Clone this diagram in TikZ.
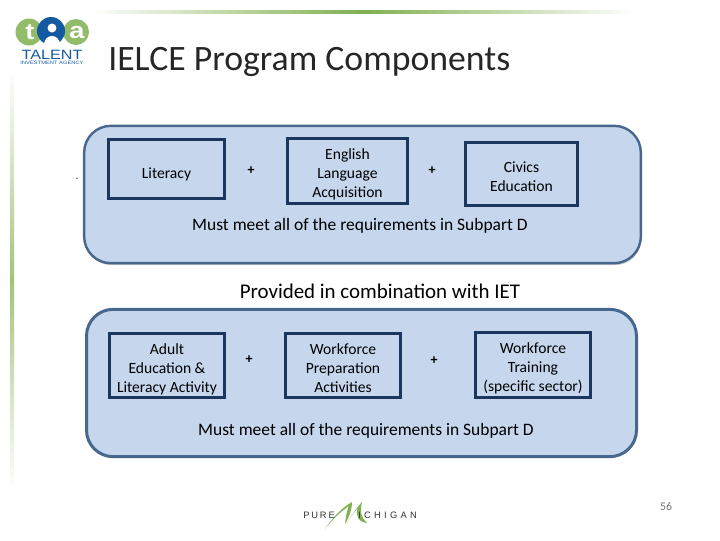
\documentclass[tikz,border=0pt]{standalone}
\usepackage{fontspec}
\setmainfont{Carlito}
\newfontfamily\logofont[FakeStretch=1.2]{Liberation Sans}
\newfontfamily\pureletters[LetterSpace=20]{Liberation Sans}
\newfontfamily\michletters[LetterSpace=35]{Liberation Sans}
\usepackage{tikz}
\usetikzlibrary{shadows}
\definecolor{panelfill}{RGB}{197,214,237}
\definecolor{panelline}{RGB}{72,103,140}
\definecolor{boxline}{RGB}{26,54,93}
\definecolor{leafgreen}{RGB}{128,176,80}
\definecolor{talentblue}{RGB}{20,90,160}
\newcommand{\topgap}[1][12.7pt]{\rule{0pt}{#1}}

\begin{document}
\begin{tikzpicture}[x=0.75pt, y=-0.75pt,
  panel/.style = {draw=panelline, fill=panelfill, rounded corners=20pt, inner sep=0pt},
  comp/.style = {draw=boxline, line width=2.25pt, fill=panelfill, align=center, inner sep=0pt, font=\fontsize{11.7}{14.25}\selectfont},
  plus/.style = {font=\bfseries\fontsize{10.5}{12}\selectfont, inner sep=0pt},
  note/.style = {font=\fontsize{13.1}{15}\selectfont, inner sep=0pt},
  logotext/.style = {talentblue, inner sep=0pt}]
\useasboundingbox (0,0) rectangle (720,540);
% slide rules
\shade[left color=white, right color=white, middle color=leafgreen] (90,10) rectangle (635,13);
\shade[top color=white, bottom color=white, middle color=leafgreen!75] (10,70) rectangle (14,490);
% logo
\fill[leafgreen!85] (29,32) circle (13.5);
\fill[leafgreen!85] (76,32) circle (13);
\fill[talentblue] (51,31) circle (14);
\fill[white] (52,28) circle (4.5);
\fill[white] (44,45) .. controls (44,33) and (60,33) .. (60,45) -- cycle;
\node[white, inner sep=0pt, font=\bfseries\logofont\fontsize{17}{17}\selectfont] (logot) at (30,32) {t};
\node[white, inner sep=0pt, font=\bfseries\logofont\fontsize{17}{17}\selectfont] (logoa) at (77,33) {a};
\node[logotext, font=\logofont\fontsize{10.1}{11}\selectfont] (talent) at (52,55) {TALENT};
\node[logotext, font=\logofont\fontsize{3.6}{4}\selectfont] (agency) at (52,63) {INVESTMENT AGENCY};
% title
\node[anchor=west, inner sep=0pt, font=\fontsize{26.8}{30}\selectfont, text=black!85] (title) at (108,62) {IELCE Program Components};
% upper panel
\node[panel, line width=1.8pt, drop shadow={shadow xshift=0.5pt, shadow yshift=-1.5pt, fill=black!45}, minimum width=417.5pt, minimum height=103pt] (upper) at (362.5,194.5) {};
\node[comp, minimum width=87pt, minimum height=44pt] (lit) at (166.5,169) {\topgap[16.5pt]Literacy};
\node[comp, minimum width=90pt, minimum height=48.75pt] (ela) at (347.5,171) {\topgap English\\Language\\Acquisition};
\node[comp, minimum width=84pt, minimum height=47.25pt] (civ) at (521.5,174) {\topgap Civics\\Education};
\node[plus] (p1) at (251,171) {+};
\node[plus] (p2) at (432,171) {+};
\node[note] (req1) at (360,226) {Must meet all of the requirements in Subpart D};
% link text
\node[font=\fontsize{15.7}{18}\selectfont, inner sep=0pt] (iet) at (380,291) {Provided in combination with IET};
% lower panel
\node[panel, line width=2.25pt, minimum width=412.5pt, minimum height=110.5pt] (lower) at (361.5,383) {};
\node[comp, minimum width=86.25pt, minimum height=48pt] (adult) at (167,365.5) {\topgap[13.7pt]Adult\\Education \&\\Literacy Activity};
\node[comp, minimum width=86.25pt, minimum height=48pt] (wpa) at (343,365.5) {\topgap Workforce\\Preparation\\Activities};
\node[comp, minimum width=86.25pt, minimum height=48.75pt] (wft) at (533,365) {\topgap Workforce\\Training\\(specific sector)};
\node[plus] (p3) at (249,360) {+};
\node[plus] (p4) at (434,361) {+};
\node[note] (req2) at (366,431) {Must meet all of the requirements in Subpart D};
% footer
\fill[leafgreen] (325,529) .. controls (333,517) and (343,507) .. (352,502) .. controls (352,510) and (349,517) .. (345,524) .. controls (346,515) and (347,510) .. (349,506) .. controls (340,512) and (332,520) .. (325,529) -- cycle;
\fill[leafgreen] (346,524) .. controls (352,515) and (358,506) .. (362,502) .. controls (360,510) and (360,516) .. (367,523) .. controls (358,522) and (355,515) .. (358,508) .. controls (354,512) and (350,518) .. (346,524) -- cycle;
\node[anchor=west, inner sep=0pt, font=\pureletters\fontsize{7}{8}\selectfont, text=black!80] (pure) at (303,515) {PURE};
\node[anchor=west, inner sep=0pt, font=\michletters\fontsize{7}{8}\selectfont, text=black!80] (mich) at (358,515) {ICHIGAN};
\node[inner sep=0pt, font=\fontsize{8.8}{10}\selectfont, text=black!55] (page) at (666,507) {56};
\node[inner sep=0pt, font=\bfseries\fontsize{8}{8}\selectfont, text=black!60] (dot) at (77,179) {.};
\end{tikzpicture}
\end{document}
